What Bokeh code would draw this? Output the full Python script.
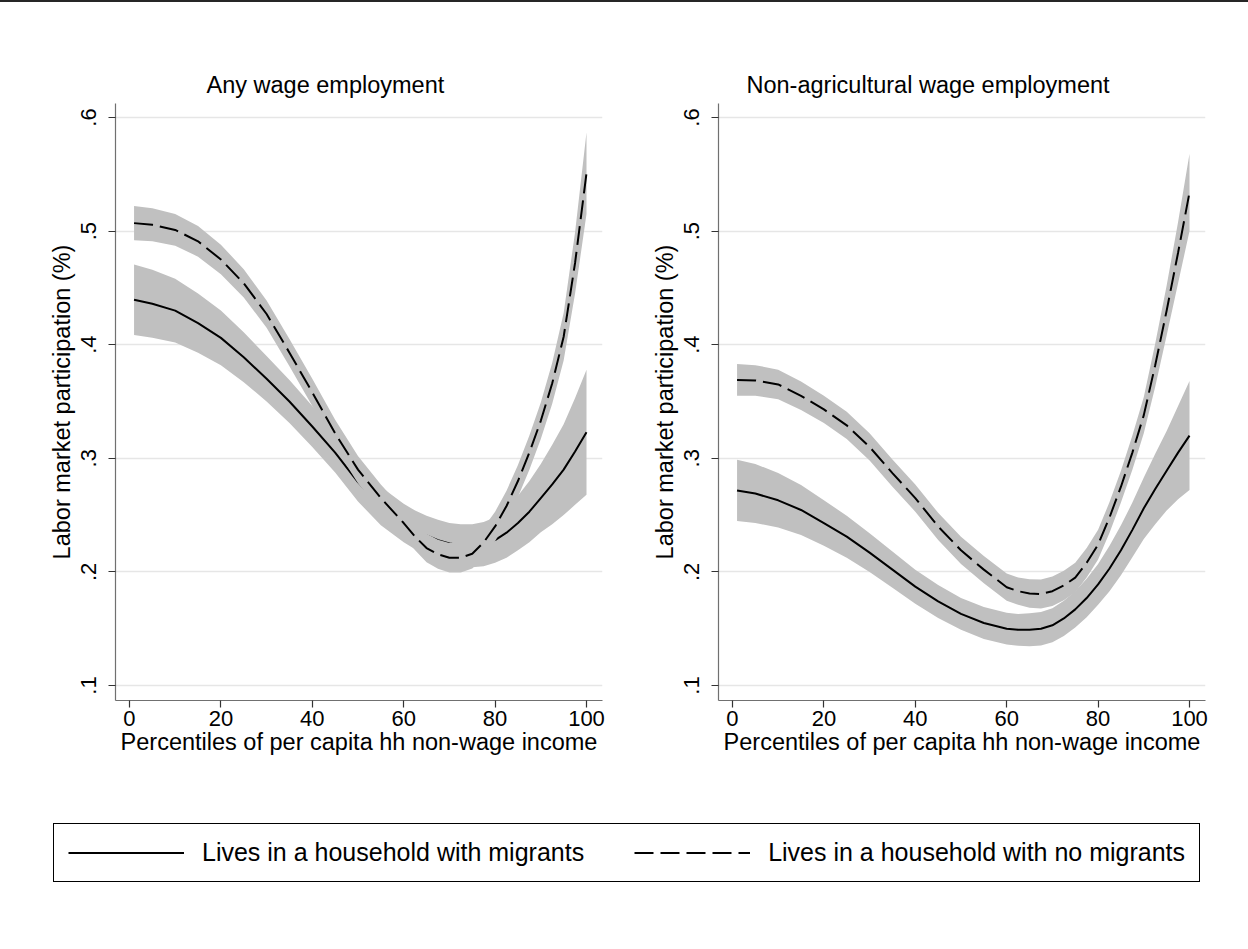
from bokeh.plotting import figure
from bokeh.models import Range1d, FixedTicker, Legend, LegendItem, Div
from bokeh.layouts import column, row
from bokeh.embed import file_html
from bokeh.resources import INLINE

# ---------------- data ----------------
pct = [1, 5, 10, 15, 20, 25, 30, 35, 40, 45, 50, 55, 60,
       62.5, 65, 67.5, 70, 72.5, 75, 77.5, 80, 82.5, 85, 87.5, 90, 92.5, 95, 97.5, 100]

# Any wage employment
any_migr = [.4395, .436, .430, .419, .406, .389, .370, .350, .328, .305, .279, .258, .243,
            .237, .232, .228, .225, .2235, .223, .2245, .228, .2345, .243, .253, .265, .277, .290, .306, .323]
any_migr_ci = [.031, .030, .028, .026, .024, .022, .020, .019, .018, .0175, .017, .017, .017,
               .017, .0175, .0178, .018, .0185, .019, .0195, .020, .022, .024, .027, .030, .035, .040, .047, .055]
any_nomigr = [.507, .5055, .501, .491, .475, .454, .427, .393, .358, .322, .290, .265, .243,
              .231, .221, .2155, .2125, .2125, .216, .226, .240, .258, .280, .305, .333, .366, .407, .472, .551]
any_nomigr_ci = [.015, .0145, .014, .0135, .013, .0125, .012, .012, .012, .012, .012, .012, .012,
                 .012, .0125, .0128, .013, .013, .013, .013, .013, .0135, .014, .015, .016, .018, .021, .027, .036]

# Non-agricultural wage employment
nag_migr = [.2717, .269, .263, .2545, .243, .231, .217, .202, .187, .174, .163, .155, .150,
            .149, .149, .150, .153, .159, .167, .177, .189, .203, .219, .237, .256, .273, .289, .305, .320]
nag_migr_ci = [.027, .026, .024, .022, .020, .0185, .017, .016, .015, .0145, .014, .014, .014,
               .014, .0145, .0148, .015, .0155, .016, .017, .018, .020, .022, .024, .027, .031, .035, .041, .048]
nag_nomigr = [.369, .3685, .365, .355, .343, .329, .310, .287, .265, .240, .219, .202, .1865,
              .183, .181, .1805, .183, .188, .195, .208, .224, .248, .275, .305, .338, .382, .430, .481, .534]
nag_nomigr_ci = [.014, .0135, .013, .0125, .012, .012, .012, .012, .012, .012, .012, .012, .012,
                 .012, .0125, .0128, .013, .013, .013, .013, .013, .0135, .014, .015, .016, .019, .022, .027, .034]

x_ticks = [0, 20, 40, 60, 80, 100]
y_ticks = [0.1, 0.2, 0.3, 0.4, 0.5, 0.6]
y_tick_labels = [".1", ".2", ".3", ".4", ".5", ".6"]

titles = ["Any wage employment", "Non-agricultural wage employment"]
x_title = "Percentiles of per capita hh non-wage income"
y_title = "Labor market participation (%)"
legend_labels = ["Lives in a household with migrants", "Lives in a household with no migrants"]

for arr in (any_migr, any_migr_ci, any_nomigr, any_nomigr_ci,
            nag_migr, nag_migr_ci, nag_nomigr, nag_nomigr_ci):
    assert len(arr) == len(pct)

# ---------------- style ----------------
FONT = "Liberation Sans"
BAND = "#c0c0c0"
DASH = "19 7"


def panel(title, s_mid, s_ci, d_mid, d_ci, left_border, right_border, title_offset):
    p = figure(
        frame_width=487, frame_height=597,
        min_border_left=left_border, min_border_right=right_border,
        min_border_top=101, min_border_bottom=90,
        x_range=Range1d(-3.06, 103.5), y_range=Range1d(0.0868, 0.6123),
        output_backend="svg", toolbar_location=None, title=title,
    )
    p.title.text_font = FONT
    p.title.text_font_size = "23.5px"
    p.title.text_font_style = "normal"
    p.title.text_color = "black"
    p.title.align = "left"
    p.title.offset = title_offset
    p.title.standoff = 11

    p.outline_line_color = None
    p.background_fill_color = "white"
    p.border_fill_color = "white"
    p.xgrid.grid_line_color = None
    p.ygrid.grid_line_color = "#e6e6e6"
    p.ygrid.grid_line_width = 1.5

    p.xaxis.ticker = FixedTicker(ticks=x_ticks)
    p.yaxis.ticker = FixedTicker(ticks=y_ticks)
    p.yaxis.major_label_overrides = dict(zip(y_ticks, y_tick_labels))
    p.yaxis.major_label_orientation = "vertical"

    for ax in (p.xaxis[0], p.yaxis[0]):
        ax.axis_line_color = "#707070"
        ax.axis_line_width = 1.2
        ax.major_tick_line_color = "#333333"
        ax.major_tick_line_width = 1.2
        ax.major_tick_in = 0
        ax.major_tick_out = 7
        ax.minor_tick_line_color = None
        ax.major_label_text_font = FONT
        ax.major_label_text_font_size = "22px"
        ax.major_label_text_color = "black"
        ax.axis_label_text_font = FONT
        ax.axis_label_text_font_size = "23.5px"
        ax.axis_label_text_font_style = "normal"
        ax.axis_label_text_color = "black"
    p.xaxis.axis_label = x_title
    p.yaxis.axis_label = y_title
    p.xaxis.major_label_standoff = 3
    p.xaxis.axis_label_standoff = 0
    p.yaxis.major_label_standoff = 12
    p.yaxis.axis_label_standoff = 4

    s_lo = [m - c for m, c in zip(s_mid, s_ci)]
    s_hi = [m + c for m, c in zip(s_mid, s_ci)]
    d_lo = [m - c for m, c in zip(d_mid, d_ci)]
    d_hi = [m + c for m, c in zip(d_mid, d_ci)]

    p.varea(x=pct, y1=s_lo, y2=s_hi, fill_color=BAND, fill_alpha=1)
    p.line(x=pct, y=s_mid, line_color="black", line_width=2)
    p.varea(x=pct, y1=d_lo, y2=d_hi, fill_color=BAND, fill_alpha=1)
    p.line(x=pct, y=d_mid, line_color="black", line_width=2, line_dash=DASH)
    return p


# thin dark rule at the very top of the page
top = Div(text="", width=1248, height=2, margin=0,
          styles={"background-color": "#262626", "width": "1248px", "height": "2px"})

p1 = panel(titles[0], any_migr, any_migr_ci, any_nomigr, any_nomigr_ci, 115, 18, 91)
p2 = panel(titles[1], nag_migr, nag_migr_ci, nag_nomigr, nag_nomigr_ci, 98, 15, 28)

# legend strip (lines drawn off-screen only to provide legend glyphs)
lf = figure(width=1240, height=110, min_border=0, output_backend="svg",
            toolbar_location=None, x_range=Range1d(0, 1), y_range=Range1d(10, 11))
lf.axis.visible = False
lf.grid.visible = False
lf.outline_line_color = None
r1 = lf.line(x=pct, y=any_migr, line_color="black", line_width=2)
r2 = lf.line(x=pct, y=any_nomigr, line_color="black", line_width=2, line_dash=DASH)
leg = Legend(
    items=[LegendItem(label=legend_labels[0], renderers=[r1]),
           LegendItem(label=legend_labels[1], renderers=[r2])],
    orientation="horizontal", location=(53, 18),
    glyph_width=116, glyph_height=29, label_height=29, label_standoff=18,
    spacing=50, padding=14, margin=0,
    label_text_font=FONT, label_text_font_size="25px", label_text_color="black",
    border_line_color="black", border_line_width=1.5, border_line_alpha=1,
    background_fill_color="white", background_fill_alpha=1,
)
lf.add_layout(leg)

layout = column(top, row(p1, p2), lf)
open("out.html", "w").write(file_html(layout, INLINE))
